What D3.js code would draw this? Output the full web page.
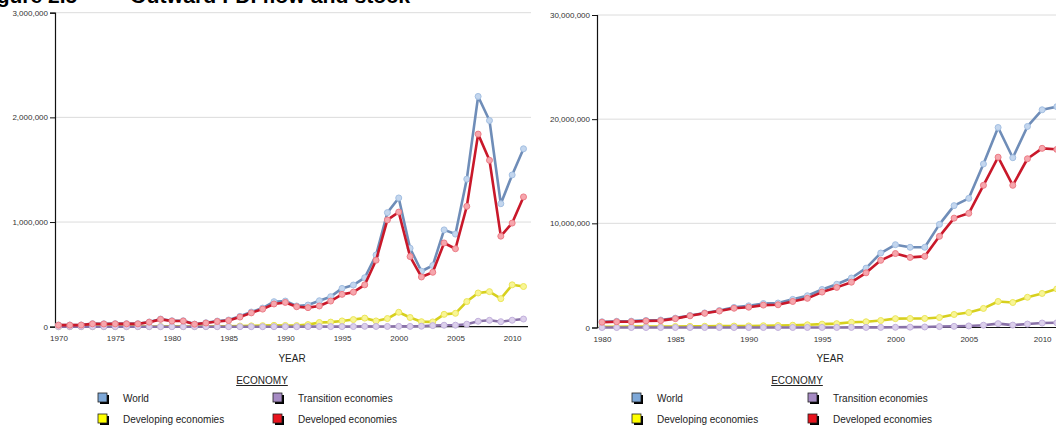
<!DOCTYPE html>
<html>
<head>
<meta charset="utf-8">
<script src="https://cdn.jsdelivr.net/npm/d3@7"></script>
<style>
  body { margin: 0; background: #fff; }
  svg { display: block; }
  text { font-family: "Liberation Sans", Arial, sans-serif; }
</style>
</head>
<body>
<svg id="chart" width="1056" height="428"></svg>
<script>
// Outward FDI flows, 1970-2011 (millions of US dollars)
const flowYears = d3.range(1970, 2012);
const flowWorld = [16000,16000,16500,29000,28000,29000,29000,29000,45000,73000,57000,57000,25000,38000,54000,64000,99000,140000,178000,239000,245000,198000,207000,248000,287000,366000,398000,468000,685000,1090000,1230000,750000,530000,585000,925000,885000,1410000,2200000,1970000,1175000,1450000,1700000];
const flowDeveloping = [500,500,600,1000,1000,1200,1500,1500,2000,2500,3000,1500,2500,2500,3500,4000,6000,8000,10000,13000,12000,11000,20000,40000,44000,55000,68000,82000,55000,78000,138000,88000,48000,46000,118000,128000,240000,322000,335000,268000,400000,384000];
const flowTransition = [0,0,0,0,0,0,0,0,0,0,0,0,0,0,0,0,0,0,0,0,0,0,1000,1500,1000,1000,1500,3500,2500,2500,3500,3000,4500,10500,14000,14500,24000,52000,61000,48000,62000,73000];
const flowDeveloped = [15000,15000,15500,27000,26000,27000,27000,27000,43000,70000,54000,54000,24000,35000,50000,59000,92000,132000,168000,217000,232000,191000,182000,198000,245000,309000,330000,400000,635000,1020000,1095000,670000,475000,520000,800000,745000,1150000,1840000,1590000,865000,990000,1240000];

// Outward FDI stock, 1980-2011 (millions of US dollars)
const stockYears = d3.range(1980, 2012);
const stockWorld = [550000,600000,610000,680000,720000,900000,1160000,1400000,1630000,1930000,2080000,2300000,2350000,2700000,3050000,3650000,4150000,4750000,5700000,7150000,7950000,7700000,7700000,9900000,11700000,12400000,15700000,19200000,16300000,19300000,20900000,21200000];
const stockDeveloping = [70000,75000,80000,85000,90000,100000,110000,120000,130000,140000,150000,170000,190000,220000,260000,320000,370000,500000,550000,670000,850000,860000,870000,960000,1250000,1440000,1830000,2500000,2400000,2900000,3270000,3700000];
const stockTransition = [0,0,0,0,0,0,0,0,0,0,0,0,2000,3000,3500,4000,6000,8000,9000,11000,20000,35000,50000,90000,110000,150000,220000,370000,230000,330000,430000,450000];
const stockDeveloped = [510000,550000,560000,630000,660000,850000,1120000,1360000,1580000,1850000,1950000,2150000,2180000,2500000,2800000,3400000,3850000,4350000,5250000,6450000,7100000,6730000,6830000,8750000,10500000,10960000,13650000,16350000,13650000,16200000,17200000,17100000];

// Tick values
const flowYearTicks = d3.range(1970, 2011, 5);
const stockYearTicks = d3.range(1980, 2011, 5);
const flowValueTicks = [0, 1000000, 2000000, 3000000];
const stockValueTicks = [0, 10000000, 20000000, 30000000];

// Legend order (two columns) and drawing order of the lines
const legendNames = ["World", "Transition economies", "Developing economies", "Developed economies"];
const drawOrder = ["World", "Developing economies", "Transition economies", "Developed economies"];

const style = {
  "World":                { line: "#6f8db8", dot: "#c3d6ee", ring: "#a3bfe2", swatch: "#7ea8d8" },
  "Developing economies": { line: "#d7d01e", dot: "#f8f596", ring: "#ece659", swatch: "#ffff00" },
  "Transition economies": { line: "#8a72a8", dot: "#dcd0ec", ring: "#c2b0dc", swatch: "#a68bc4" },
  "Developed economies":  { line: "#c9182a", dot: "#f6a6ad", ring: "#ec7c86", swatch: "#e8141e" }
};

const svg = d3.select("#chart");
const fmt = d3.format(",");

// Figure heading (runs off the top edge of the page)
svg.append("text").attr("x", -22).attr("y", 3)
  .attr("font-size", 21).attr("font-weight", "bold").attr("fill", "#000")
  .text("Figure 2.5");
svg.append("text").attr("x", 130).attr("y", 3)
  .attr("font-size", 21).attr("font-weight", "bold").attr("fill", "#000")
  .attr("textLength", 280).attr("lengthAdjust", "spacingAndGlyphs")
  .text("Outward FDI flow and stock");

function drawPanel(cfg) {
  const g = svg.append("g");
  const x = d3.scaleLinear().domain(cfg.xDomain).range(cfg.xRange);
  const y = d3.scaleLinear().domain(cfg.yDomain).range(cfg.yRange);
  const y0 = y(0);

  // horizontal gridlines
  g.append("g").selectAll("line")
    .data(cfg.yTicks.filter(d => d > 0))
    .join("line")
    .attr("x1", cfg.axisX).attr("x2", cfg.gridEnd)
    .attr("y1", d => y(d)).attr("y2", d => y(d))
    .attr("stroke", "#dcdcdc").attr("stroke-width", 1);

  // y axis
  const ya = g.append("g").attr("transform", `translate(${cfg.axisX},0)`)
    .call(d3.axisLeft(y).tickValues(cfg.yTicks).tickFormat(fmt).tickSize(5).tickSizeOuter(5).tickPadding(2));
  ya.select(".domain").attr("stroke", "#111").attr("stroke-width", 1.2);
  ya.selectAll(".tick line").attr("stroke", "#111");
  ya.selectAll("text").attr("font-size", 8).attr("fill", "#333")
    .attr("font-family", "'Liberation Sans', Arial, sans-serif");

  // x axis: baseline plus year labels
  g.append("line").attr("x1", cfg.axisX).attr("x2", cfg.axisEnd)
    .attr("y1", y0).attr("y2", y0).attr("stroke", "#111").attr("stroke-width", 1.2);
  const xa = g.append("g").attr("transform", `translate(0,${y0})`)
    .call(d3.axisBottom(x).tickValues(cfg.xTicks).tickFormat(d3.format("d")).tickSize(0).tickPadding(9));
  xa.select(".domain").remove();
  xa.selectAll("text").attr("font-size", 8).attr("fill", "#333")
    .attr("font-family", "'Liberation Sans', Arial, sans-serif");

  // series lines, then their markers
  const line = d3.line().x(d => x(d[0])).y(d => y(d[1]));
  drawOrder.forEach(name => {
    const pts = cfg.years.map((yr, i) => [yr, cfg.series[name][i]]);
    const s = style[name];
    g.append("path").datum(pts)
      .attr("d", line).attr("fill", "none")
      .attr("stroke", s.line).attr("stroke-width", 2.6)
      .attr("stroke-linejoin", "round");
    g.append("g").selectAll("circle").data(pts).join("circle")
      .attr("cx", d => x(d[0])).attr("cy", d => y(d[1])).attr("r", 3)
      .attr("fill", s.dot).attr("stroke", s.ring).attr("stroke-width", 1);
  });

  // axis title
  g.append("text").attr("x", cfg.yearLabelX).attr("y", 362)
    .attr("text-anchor", "middle").attr("font-size", 10).attr("fill", "#222")
    .text("YEAR");

  // legend
  g.append("text").attr("x", cfg.economyX).attr("y", 384)
    .attr("text-anchor", "middle").attr("font-size", 10).attr("fill", "#222")
    .attr("text-decoration", "underline")
    .text("ECONOMY");

  legendNames.forEach((name, i) => {
    const col = i % 2, row = Math.floor(i / 2);
    const ix = cfg.legendCols[col], iy = 393 + row * 21;
    const item = g.append("g").attr("transform", `translate(${ix},${iy})`);
    item.append("rect").attr("x", 2).attr("y", 2).attr("width", 9).attr("height", 9).attr("fill", "#000");
    item.append("rect").attr("x", 0).attr("y", 0).attr("width", 9).attr("height", 9)
      .attr("fill", style[name].swatch).attr("stroke", "#222").attr("stroke-width", 0.8);
    item.append("text").attr("x", cfg.legendTextOffset).attr("y", 8.5)
      .attr("font-size", 10).attr("fill", "#222").text(name);
  });
}

drawPanel({
  years: flowYears,
  series: {
    "World": flowWorld,
    "Developing economies": flowDeveloping,
    "Transition economies": flowTransition,
    "Developed economies": flowDeveloped
  },
  xDomain: [1970, 2011], xRange: [58.5, 523.5],
  yDomain: [0, 3000000], yRange: [326.7, 12.7],
  xTicks: flowYearTicks, yTicks: flowValueTicks,
  axisX: 55, axisEnd: 528, gridEnd: 531,
  yearLabelX: 292, economyX: 262,
  legendCols: [98, 273], legendTextOffset: 25
});

drawPanel({
  years: stockYears,
  series: {
    "World": stockWorld,
    "Developing economies": stockDeveloping,
    "Transition economies": stockTransition,
    "Developed economies": stockDeveloped
  },
  xDomain: [1980, 2011], xRange: [602, 1056.8],
  yDomain: [0, 30000000], yRange: [327.5, 15],
  xTicks: stockYearTicks, yTicks: stockValueTicks,
  axisX: 597, axisEnd: 1063, gridEnd: 1056,
  yearLabelX: 830, economyX: 797,
  legendCols: [632, 808], legendTextOffset: 25
});
</script>
</body>
</html>
